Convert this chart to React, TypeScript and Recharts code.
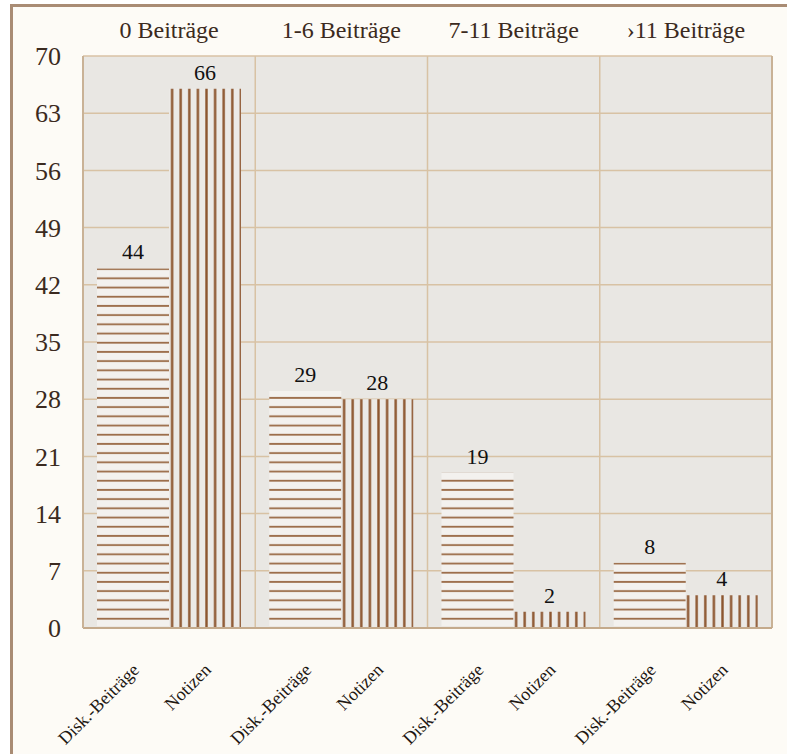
import React from "react";
import {
  BarChart, Bar, XAxis, YAxis, CartesianGrid, ReferenceLine, LabelList
} from "recharts";

const groups = ["0 Beiträge", "1-6 Beiträge", "7-11 Beiträge", "›11 Beiträge"];
const diskBeitraege = [44, 29, 19, 8];
const notizen = [66, 28, 2, 4];
const barLabels = ["Disk.-Beiträge", "Notizen"];
const yTicks = [0, 7, 14, 21, 28, 35, 42, 49, 56, 63, 70];

const data = groups.map((g, i) => ({ group: g, disk: diskBeitraege[i], notizen: notizen[i] }));

const FONT = "Liberation Serif";
const TEXT = "#3b2a20";
const GRID = "#d8c2a4";

// two rotated labels under every group, one per bar
function BottomTick(props: any) {
  const { x, y } = props;
  const half = 36;
  return (
    <g>
      {barLabels.map((lbl, i) => {
        const cx = x + (i === 0 ? -half : half) + 7;
        const cy = y + 35;
        return (
          <text
            key={lbl}
            x={cx}
            y={cy}
            textAnchor="end"
            transform={`rotate(-45, ${cx}, ${cy})`}
            style={{ fontFamily: FONT, fontSize: 18 }}
            fill="#1e1712"
          >
            {lbl}
          </text>
        );
      })}
    </g>
  );
}

export default function App() {
  return (
    <div
      style={{
        position: "absolute", left: 10, top: 4, width: 774, height: 750,
        borderLeft: "3px solid #a98c74", borderTop: "3px solid #a98c74",
        background: "#fdfbf6", overflow: "hidden", fontFamily: FONT,
      }}
    >
      <BarChart
        width={774}
        height={747}
        data={data}
        margin={{ top: 9, right: 15, bottom: 0, left: 0 }}
        barCategoryGap={14}
        barGap={0}
        style={{ fontFamily: FONT }}
      >
        <defs>
          <pattern id="hstripe" patternUnits="userSpaceOnUse" width={12} height={9.2}>
            <rect width={12} height={9.2} fill="#f3f1ee" />
            <line x1={0} y1={4.5} x2={12} y2={4.5} stroke="#9a6b47" strokeWidth={1.8} />
          </pattern>
          <pattern id="vstripe" patternUnits="userSpaceOnUse" width={8.6} height={12}>
            <rect width={8.6} height={12} fill="#eceae7" />
            <line x1={4.3} y1={0} x2={4.3} y2={12} stroke="#8d5630" strokeWidth={2.4} />
          </pattern>
        </defs>
        <CartesianGrid vertical={false} stroke={GRID} strokeWidth={1.5} fill="#e9e7e3" fillOpacity={1} />
        <XAxis
          xAxisId="top"
          orientation="top"
          dataKey="group"
          height={40}
          axisLine={false}
          tickLine={false}
          tickSize={0}
          tickMargin={18}
          tick={{ fontFamily: FONT, fontSize: 24, fill: TEXT }}
        />
        <XAxis
          xAxisId="bottom"
          dataKey="group"
          height={126}
          axisLine={{ stroke: "#c4aa8c", strokeWidth: 2 }}
          tickLine={false}
          tick={<BottomTick />}
        />
        <YAxis
          width={70}
          domain={[0, 70]}
          ticks={yTicks}
          axisLine={{ stroke: "#c9b296", strokeWidth: 2 }}
          tickLine={false}
          tickSize={0}
          tickMargin={22}
          tick={{ fontFamily: FONT, fontSize: 26, fill: TEXT }}
        />
        {groups.slice(1).map((g) => (
          <ReferenceLine key={g} xAxisId="bottom" x={g} position="start" stroke={GRID} strokeWidth={1.5} />
        ))}
        <ReferenceLine xAxisId="bottom" x={groups[groups.length - 1]} position="end" stroke="#c9b296" strokeWidth={2} />
        <Bar xAxisId="bottom" dataKey="disk" fill="url(#hstripe)" isAnimationActive={false}>
          <LabelList dataKey="disk" position="top" offset={9} fontFamily={FONT} fontSize={22} fill="#111" />
        </Bar>
        <Bar xAxisId="bottom" dataKey="notizen" fill="url(#vstripe)" isAnimationActive={false}>
          <LabelList dataKey="notizen" position="top" offset={9} fontFamily={FONT} fontSize={22} fill="#111" />
        </Bar>
      </BarChart>
    </div>
  );
}
